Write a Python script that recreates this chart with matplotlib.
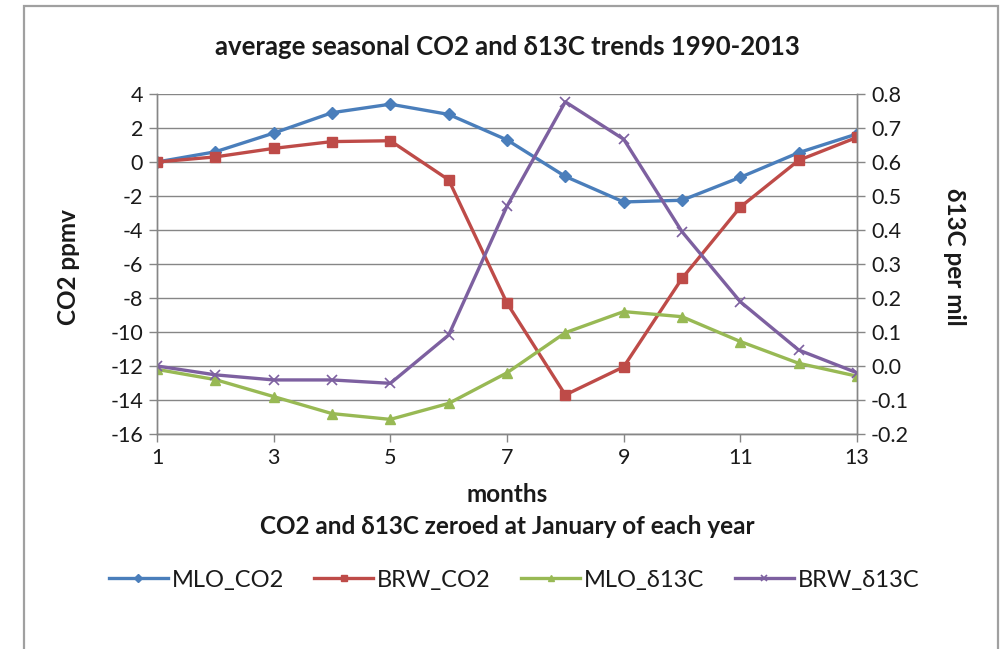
import numpy as np
import matplotlib
matplotlib.use('Agg')
import matplotlib.pyplot as plt
from matplotlib.patches import Rectangle

plt.rcParams['font.family'] = ['Lato', 'DejaVu Sans']
plt.rcParams['axes.unicode_minus'] = False

months = [1, 2, 3, 4, 5, 6, 7, 8, 9, 10, 11, 12, 13]
x_ticks = [1, 3, 5, 7, 9, 11, 13]

mlo_co2 = [0.0, 0.6, 1.7, 2.9, 3.4, 2.8, 1.3, -0.85, -2.35, -2.25, -0.9, 0.55, 1.65]
brw_co2 = [0.0, 0.3, 0.8, 1.2, 1.25, -1.05, -8.3, -13.7, -12.05, -6.85, -2.65, 0.1, 1.45]
mlo_d13c = [-0.01, -0.04, -0.09, -0.14, -0.157, -0.11, -0.02, 0.098, 0.16, 0.145, 0.072, 0.008, -0.03]
brw_d13c = [0.0, -0.026, -0.041, -0.041, -0.051, 0.091, 0.47, 0.777, 0.667, 0.395, 0.189, 0.047, -0.02]

left_ticks = [4, 2, 0, -2, -4, -6, -8, -10, -12, -14, -16]
right_ticks = [0.8, 0.7, 0.6, 0.5, 0.4, 0.3, 0.2, 0.1, 0.0, -0.1, -0.2]

blue = '#4A7EBB'
red = '#BE4B48'
green = '#98B954'
purple = '#7D60A0'
gray = '#868686'
txt = '#1a1a1a'

fig = plt.figure(figsize=(10.07, 6.49), dpi=100)
fig.patches.append(Rectangle((24 / 1007, -0.05), (998 - 24) / 1007, 1 - 6 / 649 + 0.05,
                             transform=fig.transFigure, fill=False,
                             edgecolor='#A0A0A0', linewidth=1.6))

ax = fig.add_axes([157 / 1007, 1 - 434 / 649, 700 / 1007, 340 / 649])
ax2 = ax.twinx()

l1, = ax.plot(months, mlo_co2, color=blue, lw=2.4, marker='D', ms=6.5, label='MLO_CO2')
l2, = ax.plot(months, brw_co2, color=red, lw=2.4, marker='s', ms=7.5, label='BRW_CO2')
l3, = ax2.plot(months, mlo_d13c, color=green, lw=2.4, marker='^', ms=7.5, label='MLO_δ13C')
l4, = ax2.plot(months, brw_d13c, color=purple, lw=2.4, marker='x', ms=7, mew=1.2, label='BRW_δ13C')

ax.set_xlim(1, 13)
ax.set_ylim(-16, 4)
ax2.set_ylim(-0.2, 0.8)
ax.set_xticks(x_ticks)
ax.set_yticks(left_ticks)
ax2.set_yticks(right_ticks)
ax2.set_yticklabels(['%.1f' % v for v in right_ticks])

ax.grid(axis='y', color=gray, lw=1)
ax.set_axisbelow(True)
for a in (ax, ax2):
    a.spines['top'].set_visible(False)
    for s in ('left', 'right', 'bottom'):
        a.spines[s].set_color(gray)
        a.spines[s].set_linewidth(1)
    a.tick_params(colors=gray, labelcolor=txt, labelsize=15.5, length=6, width=1, pad=4)

ax.set_ylabel('CO2 ppmv', fontsize=17.5, fontweight='bold', color=txt)
ax.yaxis.set_label_coords((80 - 157) / 700, 0.49)
ax2.set_ylabel('δ13C per mil', fontsize=17.5, fontweight='bold', color=txt, rotation=270, va='center')
ax2.yaxis.set_label_coords((955 - 157) / 700, 0.52)

fig.text(507 / 1007, 1 - 495 / 649, 'months', ha='center', va='center',
         fontsize=17.5, fontweight='bold', color=txt)
fig.text(507 / 1007, 1 - 527 / 649, 'CO2 and δ13C zeroed at January of each year',
         ha='center', va='center', fontsize=17.5, fontweight='bold', color=txt)
fig.text(507 / 1007, 1 - 47 / 649, 'average seasonal CO2 and δ13C trends 1990-2013',
         ha='center', va='center', fontsize=18.5, fontweight='bold', color=txt)

fig.legend(handles=[l1, l2, l3, l4], loc='center', bbox_to_anchor=(514 / 1007, 1 - 580 / 649),
           ncol=4, frameon=False, fontsize=17, handlelength=2.5, columnspacing=1.3,
           handletextpad=0.15, markerscale=0.6, labelcolor=txt)

fig.savefig('out.png', dpi=100)
